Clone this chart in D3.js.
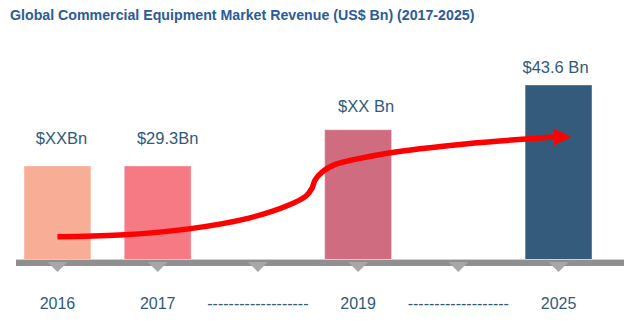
<!DOCTYPE html>
<html>
<head>
<meta charset="utf-8">
<script src="https://cdn.jsdelivr.net/npm/d3@7"></script>
<style>
  html, body { margin: 0; padding: 0; background: #fff; }
  svg { display: block; font-family: "Liberation Sans", Arial, sans-serif; }
</style>
</head>
<body>
<svg id="chart" width="624" height="324"></svg>
<script>
// Timeline slots along the axis (two of them are "gap" slots shown as dashes)
const slots = ["s2016", "s2017", "gap1", "s2019", "gap2", "s2025"];
const slotLabels = ["2016", "2017", "-------------------", "2019", "-------------------", "2025"];

// Bars: year slot, revenue (US$ Bn), and the label printed above it
const barSlots = ["s2016", "s2017", "s2019", "s2025"];
const barValues = [29.3, 29.3, 35.7, 43.6];
const barLabels = ["$XXBn", "$29.3Bn", "$XX Bn", "$43.6 Bn"];
const barColors = ["#f8ae96", "#f57a84", "#cf6c80", "#355b7c"];

// Growth trend arrow: position along the timeline (slot index) and level
const trendIdx = [0, 0.62, 1.31, 1.91, 2.31, 2.48, 2.54, 2.57, 2.64, 2.76, 3.31, 4.07, 4.96];
const trendVal = [16.8, 17.1, 18.2, 20.1, 22.4, 24.0, 25.4, 26.8, 28.2, 29.5, 31.6, 33.2, 34.4];
const trendTipIdx = 5.13;

const title = "Global Commercial Equipment Market Revenue (US$ Bn) (2017-2025)";

const svg = d3.select("#chart");

// Label nudges (px) relative to each bar top / centre
const labelLift = [22, 22, 18, 12];
const labelShift = [4, 10, 8, -3];

const x = d3.scaleBand()
  .domain(slots)
  .range([7.4, 608.6])
  .paddingInner(0.333)
  .paddingOuter(0.166);

const baseY = 260;
const y = d3.scaleLinear().domain([12.7, 43.6]).range([baseY, 85]);

// continuous slot position -> pixel centre
const xc = d3.scaleLinear()
  .domain([0, slots.length - 1])
  .range([x(slots[0]) + x.bandwidth() / 2, x(slots[slots.length - 1]) + x.bandwidth() / 2]);

// Title
svg.append("text")
  .attr("x", 10)
  .attr("y", 20)
  .attr("fill", "#2b5b9a")
  .attr("font-size", 14.2)
  .attr("font-weight", "bold")
  .text(title);

// Bars
const bars = barSlots.map((s, i) => ({ slot: s, value: barValues[i], label: barLabels[i], color: barColors[i], i }));

svg.append("g").selectAll("rect")
  .data(bars)
  .join("rect")
  .attr("x", d => x(d.slot))
  .attr("y", d => y(d.value))
  .attr("width", x.bandwidth())
  .attr("height", d => baseY - y(d.value))
  .attr("fill", d => d.color)
  .attr("stroke", "#ffffff")
  .attr("stroke-opacity", 0.35)
  .attr("stroke-width", 1);

// Value labels
svg.append("g").selectAll("text")
  .data(bars)
  .join("text")
  .attr("x", d => x(d.slot) + x.bandwidth() / 2 + labelShift[d.i])
  .attr("y", d => y(d.value) - labelLift[d.i])
  .attr("text-anchor", "middle")
  .attr("fill", "#2f5a7e")
  .attr("font-size", 16.5)
  .text(d => d.label);

// Timeline band
svg.append("rect")
  .attr("x", 16)
  .attr("y", baseY)
  .attr("width", 624 - 16)
  .attr("height", 6)
  .attr("fill", "#8f8f8f");
svg.append("line")
  .attr("x1", 16).attr("x2", 624)
  .attr("y1", baseY - 0.5).attr("y2", baseY - 0.5)
  .attr("stroke", "#cfcfcf");

// Markers under each slot
svg.append("g").selectAll("path")
  .data(slots)
  .join("path")
  .attr("d", s => {
    const cx = x(s) + x.bandwidth() / 2;
    return `M${cx - 10},${baseY + 2}L${cx + 10},${baseY + 2}L${cx},${baseY + 12}Z`;
  })
  .attr("fill", "#a7a7a7");

// Slot labels via a bottom axis
const axis = svg.append("g")
  .attr("transform", `translate(0,${baseY + 38})`)
  .call(d3.axisBottom(x).tickSize(0).tickPadding(0).tickFormat((d, i) => slotLabels[i]));
axis.select(".domain").remove();
axis.selectAll("text")
  .attr("font-family", "Liberation Sans, Arial, sans-serif")
  .attr("font-size", 16)
  .attr("fill", "#2f5a7e");

// Growth arrow
const trend = trendIdx.map((t, i) => [xc(t), y(trendVal[i])]);
svg.append("path")
  .attr("d", d3.line().curve(d3.curveCatmullRom.alpha(0.5))(trend))
  .attr("fill", "none")
  .attr("stroke", "#ff0000")
  .attr("stroke-width", 5.5)
  .attr("stroke-linecap", "butt");

const end = trend[trend.length - 1];
const tipX = xc(trendTipIdx);
svg.append("path")
  .attr("d", `M${end[0] - 1},${end[1] - 8.5}L${tipX},${end[1]}L${end[0] - 1},${end[1] + 8.5}Z`)
  .attr("fill", "#ff0000");
</script>
</body>
</html>
